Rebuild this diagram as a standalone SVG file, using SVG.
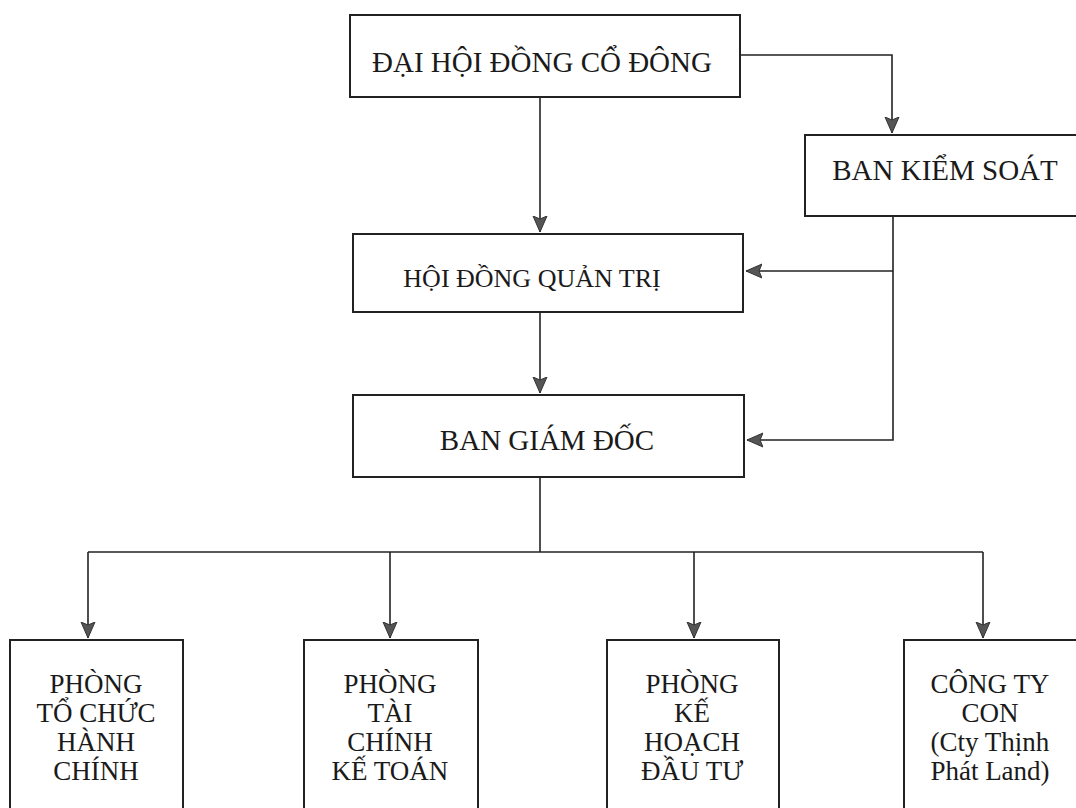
<svg xmlns="http://www.w3.org/2000/svg" width="1076" height="808" viewBox="0 0 1076 808">
<style>
.box{fill:#fff;stroke:#222;stroke-width:2}
.t{font-family:"Liberation Serif","Times New Roman",serif;fill:#1a1a1a;text-anchor:middle}
.big{font-size:29px}
.mid{font-size:26px}
.sm{font-size:27px}
.ln{fill:none;stroke:#222;stroke-width:1.6}
</style>
<defs>
<marker id="ah" viewBox="0 0 16 16" refX="16" refY="8" markerWidth="16" markerHeight="16" markerUnits="userSpaceOnUse" orient="auto">
<path d="M0,1 L16,8 L0,15 L3,8 z" fill="#555" stroke="#333" stroke-width="1"/>
</marker>
</defs>
<rect width="1076" height="808" fill="#fff"/>
<g id="connectors">
<path class="ln" d="M740,55 H892 V133" marker-end="url(#ah)"/>
<path class="ln" d="M540,97 V232" marker-end="url(#ah)"/>
<path class="ln" d="M893,216 V440 H747" marker-end="url(#ah)"/>
<path class="ln" d="M893,271 H746" marker-end="url(#ah)"/>
<path class="ln" d="M540,312 V393" marker-end="url(#ah)"/>
<path class="ln" d="M540,477 V552"/>
<path class="ln" d="M88,552 H983"/>
<path class="ln" d="M88,552 V638" marker-end="url(#ah)"/>
<path class="ln" d="M390,552 V638" marker-end="url(#ah)"/>
<path class="ln" d="M694,552 V638" marker-end="url(#ah)"/>
<path class="ln" d="M983,552 V638" marker-end="url(#ah)"/>
</g>
<g id="dhdcd">
<rect class="box" x="350" y="15" width="390" height="82"/>
<text class="t big" x="542" y="72">ĐẠI HỘI ĐỒNG CỔ ĐÔNG</text>
</g>
<g id="bks">
<rect class="box" x="805" y="135" width="290" height="81"/>
<text class="t big" x="945" y="180">BAN KIỂM SOÁT</text>
</g>
<g id="hdqt">
<rect class="box" x="353" y="234" width="390" height="78"/>
<text class="t mid" x="532" y="287">HỘI ĐỒNG QUẢN TRỊ</text>
</g>
<g id="bgd">
<rect class="box" x="353" y="395" width="391" height="82"/>
<text class="t big" x="547" y="450">BAN GIÁM ĐỐC</text>
</g>
<g id="tchc">
<rect class="box" x="10" y="640" width="173" height="180"/>
<text class="t sm" x="96" y="693">PHÒNG</text>
<text class="t sm" x="96" y="722">TỔ CHỨC</text>
<text class="t sm" x="96" y="751">HÀNH</text>
<text class="t sm" x="96" y="780">CHÍNH</text>
</g>
<g id="tckt">
<rect class="box" x="304" y="640" width="174" height="180"/>
<text class="t sm" x="390" y="693">PHÒNG</text>
<text class="t sm" x="390" y="722">TÀI</text>
<text class="t sm" x="390" y="751">CHÍNH</text>
<text class="t sm" x="390" y="780">KẾ TOÁN</text>
</g>
<g id="khdt">
<rect class="box" x="607" y="640" width="172" height="180"/>
<text class="t sm" x="692" y="693">PHÒNG</text>
<text class="t sm" x="692" y="722">KẾ</text>
<text class="t sm" x="692" y="751">HOẠCH</text>
<text class="t sm" x="692" y="780">ĐẦU TƯ</text>
</g>
<g id="cty">
<rect class="box" x="904" y="640" width="190" height="180"/>
<text class="t sm" x="990" y="693">CÔNG TY</text>
<text class="t sm" x="990" y="722">CON</text>
<text class="t sm" x="990" y="751">(Cty Thịnh</text>
<text class="t sm" x="990" y="780">Phát Land)</text>
</g>
</svg>
